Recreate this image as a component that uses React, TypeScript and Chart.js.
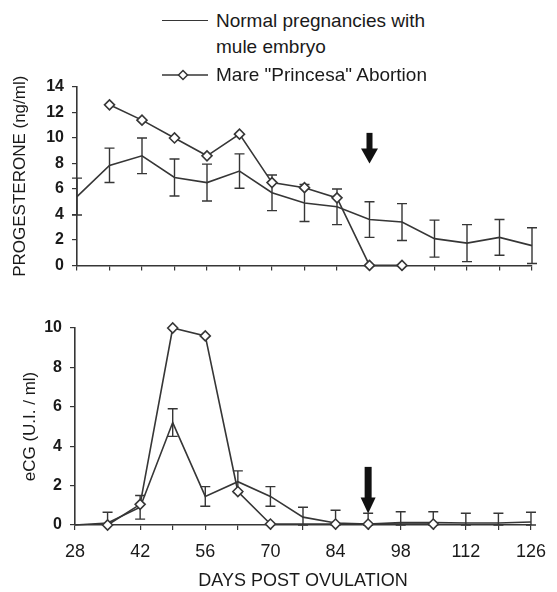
import React, { useEffect, useRef } from 'react';
import { Chart, registerables } from 'chart.js';

Chart.register(...registerables);

// ---------- data ----------
const DAYS = [28, 35, 42, 49, 56, 63, 70, 77, 84, 91, 98, 105, 112, 119, 126];
const X_LABEL_DAYS = [28, 42, 56, 70, 84, 98, 112, 126];

const P4_NORMAL = [5.4, 7.85, 8.6, 6.9, 6.5, 7.4, 5.7, 4.9, 4.6, 3.6, 3.4, 2.1, 1.75, 2.2, 1.55];
const P4_NORMAL_SEM = [1.45, 1.35, 1.4, 1.45, 1.45, 1.35, 1.4, 1.45, 1.4, 1.4, 1.45, 1.45, 1.45, 1.4, 1.4];
const P4_ABORT_DAYS = [35, 42, 49, 56, 63, 70, 77, 84, 91, 98];
const P4_ABORT = [12.6, 11.4, 10.0, 8.6, 10.3, 6.5, 6.1, 5.3, 0, 0];

const ECG_NORMAL = [0.0, 0.1, 0.9, 5.2, 1.45, 2.2, 1.45, 0.4, 0.1, 0.05, 0.12, 0.12, 0.1, 0.1, 0.15];
const ECG_NORMAL_SEM = [0, 0.55, 0.6, 0.7, 0.5, 0.55, 0.5, 0.5, 0.65, 0.55, 0.55, 0.55, 0.5, 0.5, 0.5];
const ECG_ABORT_DAYS = [35, 42, 49, 56, 63, 70, 84, 91, 105];
const ECG_ABORT = [0, 1.05, 10, 9.6, 1.7, 0.05, 0.05, 0.05, 0.05];

const ABORTION_DAY = 91;
const P4_ARROW = [10.4, 8.0]; // tail value, tip value
const ECG_ARROW = [2.95, 0.58];

const LEGEND_NORMAL = ['Normal pregnancies with', 'mule embryo'];
const LEGEND_ABORT = 'Mare "Princesa" Abortion';
const P4_TITLE = 'PROGESTERONE (ng/ml)';
const ECG_TITLE = 'eCG (U.I. / ml)';
const X_TITLE = 'DAYS POST OVULATION';

// ---------- styles ----------
const FONT = "'Liberation Sans', Arial, sans-serif";
const INK = '#1a1a1a';
const LINE = '#363636';

const errorBarPlugin = {
  id: 'errorBars',
  afterDatasetDraw(chart: any, args: any) {
    const ds = chart.data.datasets[args.index];
    if (!ds.sem) return;
    const { ctx } = chart;
    const xs = chart.scales.x;
    const ys = chart.scales.y;
    ctx.save();
    ctx.strokeStyle = LINE;
    ctx.lineWidth = 1.4;
    ds.data.forEach((p: any, i: number) => {
      const e = ds.sem[i];
      if (!e) return;
      const x = xs.getPixelForValue(p.x);
      const hi = ys.getPixelForValue(p.y + e);
      const lo = ys.getPixelForValue(Math.max(p.y - e, ys.min));
      ctx.beginPath();
      ctx.moveTo(x, hi);
      ctx.lineTo(x, lo);
      ctx.moveTo(x - 5, hi);
      ctx.lineTo(x + 5, hi);
      ctx.moveTo(x - 5, lo);
      ctx.lineTo(x + 5, lo);
      ctx.stroke();
    });
    ctx.restore();
  },
};

const arrowPlugin = {
  id: 'abortionArrow',
  afterDatasetsDraw(chart: any, _args: any, opts: any) {
    if (!opts || opts.day == null) return;
    const { ctx } = chart;
    const x = chart.scales.x.getPixelForValue(opts.day);
    const yTail = chart.scales.y.getPixelForValue(opts.from);
    const yTip = chart.scales.y.getPixelForValue(opts.to);
    ctx.save();
    ctx.fillStyle = '#111';
    ctx.fillRect(x - opts.shaft / 2, yTail, opts.shaft, yTip - opts.headH - yTail + 1);
    ctx.beginPath();
    ctx.moveTo(x - opts.headW / 2, yTip - opts.headH);
    ctx.lineTo(x + opts.headW / 2, yTip - opts.headH);
    ctx.lineTo(x, yTip);
    ctx.closePath();
    ctx.fill();
    ctx.restore();
  },
};

function buildConfig(p: any) {
  return {
    type: 'line',
    data: {
      datasets: [
        {
          label: LEGEND_NORMAL.join(' '),
          data: DAYS.map((d, i) => ({ x: d, y: p.normal[i] })),
          sem: p.sem,
          borderColor: LINE,
          borderWidth: 1.6,
          pointRadius: 0,
          tension: 0,
          clip: false,
          order: 1,
        },
        {
          label: LEGEND_ABORT,
          data: p.abortDays.map((d: number, i: number) => ({ x: d, y: p.abort[i] })),
          borderColor: LINE,
          borderWidth: 1.6,
          pointStyle: 'rectRot',
          pointRadius: 5,
          pointBackgroundColor: '#ffffff',
          pointBorderColor: LINE,
          pointBorderWidth: 1.6,
          tension: 0,
          clip: false,
          order: 0,
        },
      ],
    },
    options: {
      responsive: false,
      animation: false,
      devicePixelRatio: 1,
      layout: { padding: { top: p.padTop, right: p.padRight, left: 0, bottom: 0 } },
      plugins: {
        legend: { display: false },
        tooltip: { enabled: false },
        abortionArrow: p.arrow,
      },
      scales: {
        x: {
          type: 'linear',
          min: 28,
          max: 126,
          ticks: {
            stepSize: 7,
            autoSkip: false,
            maxRotation: 0,
            display: p.bottomAxis,
            callback: (v: number) => (X_LABEL_DAYS.includes(v) ? String(v) : ''),
            font: { family: FONT, size: 18 },
            color: INK,
            padding: 11,
          },
          grid: { drawOnChartArea: false, drawTicks: true, tickLength: 5, color: LINE, lineWidth: 1.2 },
          border: { display: true, color: LINE, width: 1.6 },
          title: {
            display: p.bottomAxis,
            text: X_TITLE,
            font: { family: FONT, size: 18 },
            color: INK,
            padding: { top: 0, bottom: 0 },
          },
          afterFit: (s: any) => {
            s.height = p.xHeight;
          },
        },
        y: {
          min: 0,
          max: p.yMax,
          ticks: {
            stepSize: 2,
            font: { family: FONT, size: 16, weight: 'bold' },
            color: INK,
            padding: 8,
          },
          grid: { drawOnChartArea: false, tickLength: 5, color: LINE, lineWidth: 1.2 },
          border: { display: true, color: LINE, width: 1.6 },
          title: {
            display: true,
            text: p.yTitle,
            font: { family: FONT, size: 17 },
            color: INK,
            padding: { top: p.yTitlePad, bottom: 0 },
          },
          afterFit: (s: any) => {
            s.width = p.yWidth;
          },
        },
      },
    },
    plugins: [errorBarPlugin, arrowPlugin],
  };
}

function ChartCanvas({ config, left, top, width, height }: any) {
  const ref = useRef<HTMLCanvasElement>(null);
  useEffect(() => {
    const chart = new Chart(ref.current as HTMLCanvasElement, config);
    return () => chart.destroy();
  }, []);
  return (
    <canvas
      ref={ref}
      width={width}
      height={height}
      style={{ position: 'absolute', left, top, width, height }}
    />
  );
}

const topConfig = buildConfig({
  normal: P4_NORMAL,
  sem: P4_NORMAL_SEM,
  abortDays: P4_ABORT_DAYS,
  abort: P4_ABORT,
  yMax: 14,
  yTitle: P4_TITLE,
  yTitlePad: 10,
  yWidth: 77,
  bottomAxis: false,
  xHeight: 10,
  padTop: 27,
  padRight: 25,
  arrow: { day: ABORTION_DAY, from: P4_ARROW[0], to: P4_ARROW[1], shaft: 6, headW: 17, headH: 15 },
});

const bottomConfig = buildConfig({
  normal: ECG_NORMAL,
  sem: ECG_NORMAL_SEM,
  abortDays: ECG_ABORT_DAYS,
  abort: ECG_ABORT,
  yMax: 10,
  yTitle: ECG_TITLE,
  yTitlePad: 20,
  yWidth: 75,
  bottomAxis: true,
  xHeight: 67,
  padTop: 28,
  padRight: 24,
  arrow: { day: ABORTION_DAY, from: ECG_ARROW[0], to: ECG_ARROW[1], shaft: 7, headW: 15, headH: 16 },
});

const textStyle: any = {
  position: 'absolute',
  left: 216,
  fontFamily: FONT,
  fontSize: 19,
  lineHeight: '22px',
  color: INK,
  whiteSpace: 'nowrap',
};

export default function App() {
  return (
    <div
      style={{
        position: 'fixed',
        left: 0,
        top: 0,
        width: 557,
        height: 592,
        background: '#ffffff',
        overflow: 'hidden',
      }}
    >
      <ChartCanvas config={topConfig} left={0} top={60} width={557} height={223} />
      <ChartCanvas config={bottomConfig} left={0} top={300} width={557} height={292} />
      <div
        style={{ position: 'absolute', left: 162, top: 20, width: 46, height: 0, borderTop: `1.5px solid ${LINE}` }}
      />
      <span style={{ ...textStyle, top: 10 }}>{LEGEND_NORMAL[0]}</span>
      <span style={{ ...textStyle, top: 36 }}>{LEGEND_NORMAL[1]}</span>
      <svg style={{ position: 'absolute', left: 162, top: 69 }} width={46} height={12}>
        <line x1={0} y1={6} x2={46} y2={6} stroke={LINE} strokeWidth={1.5} />
        <polygon points="21,1.5 25.5,6 21,10.5 16.5,6" fill="#ffffff" stroke={LINE} strokeWidth={1.5} />
      </svg>
      <span style={{ ...textStyle, top: 64 }}>{LEGEND_ABORT}</span>
    </div>
  );
}
